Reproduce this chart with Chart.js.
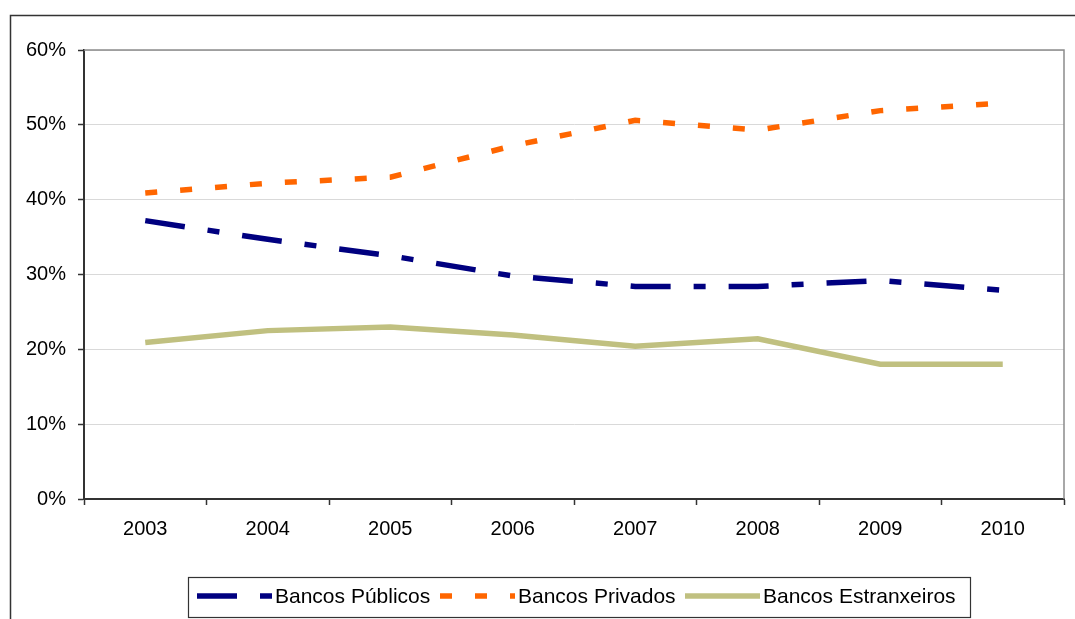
<!DOCTYPE html>
<html>
<head>
<meta charset="utf-8">
<script src="https://cdn.jsdelivr.net/npm/chart.js@4.4.1/dist/chart.umd.min.js"></script>
<style>
  html, body { margin: 0; padding: 0; background: #ffffff; }
  #wrap { width: 1075px; height: 619px; position: relative; }
</style>
</head>
<body>
<div id="wrap"><canvas id="c" width="1075" height="619"></canvas></div>
<script>
// Market share by bank type, 2003-2010 (percent)
const years = ['2003', '2004', '2005', '2006', '2007', '2008', '2009', '2010'];
const publicos = [37.2, 34.7, 32.5, 29.8, 28.4, 28.4, 29.2, 27.9];
const privados = [40.9, 42.2, 43.0, 47.2, 50.6, 49.3, 51.9, 52.9];
const estranxeiros = [20.9, 22.5, 23.0, 21.9, 20.4, 21.4, 18.0, 18.0];
const seriesNames = ['Bancos Públicos', 'Bancos Privados', 'Bancos Estranxeiros'];
const yTicks = [0, 10, 20, 30, 40, 50, 60];

const FONT = '"Liberation Sans", Arial, sans-serif';

const styles = [
  { color: '#000080', dash: [40, 23, 12, 23] },
  { color: '#FF6600', dash: [12, 23] },
  { color: '#C0C080', dash: [] }
];

// Outer frame, plot border and the legend box below the axis
const decorations = {
  id: 'decorations',
  beforeDraw(chart) {
    const ctx = chart.ctx;
    ctx.save();
    ctx.fillStyle = '#ffffff';
    ctx.fillRect(0, 0, chart.width, chart.height);
    ctx.strokeStyle = '#333333';
    ctx.lineWidth = 1.5;
    ctx.beginPath();
    ctx.moveTo(10.5, chart.height);
    ctx.lineTo(10.5, 15.5);
    ctx.lineTo(chart.width, 15.5);
    ctx.stroke();
    ctx.restore();
  },
  afterDraw(chart) {
    const ctx = chart.ctx;
    const a = chart.chartArea;
    ctx.save();
    ctx.strokeStyle = '#8c8c8c';
    ctx.lineWidth = 1.5;
    ctx.beginPath();
    ctx.moveTo(a.left, a.top);
    ctx.lineTo(a.right, a.top);
    ctx.lineTo(a.right, a.bottom);
    ctx.stroke();

    // legend
    const box = { x: 188, y: 577, w: 782, h: 40 };
    ctx.fillStyle = '#ffffff';
    ctx.fillRect(box.x, box.y, box.w, box.h);
    ctx.strokeStyle = '#333333';
    ctx.lineWidth = 1.2;
    ctx.strokeRect(box.x + 0.5, box.y + 0.5, box.w, box.h);
    const cy = box.y + 19;
    const starts = [197, 440, 685];
    ctx.font = '21px ' + FONT;
    ctx.textBaseline = 'middle';
    ctx.textAlign = 'left';
    seriesNames.forEach((name, i) => {
      const s = styles[i];
      ctx.strokeStyle = s.color;
      ctx.lineWidth = 5.5;
      ctx.lineCap = 'butt';
      ctx.setLineDash(s.dash);
      ctx.beginPath();
      ctx.moveTo(starts[i], cy);
      ctx.lineTo(starts[i] + 75, cy);
      ctx.stroke();
      ctx.setLineDash([]);
      ctx.fillStyle = '#000000';
      ctx.fillText(name, starts[i] + 78, cy + 1);
    });
    ctx.restore();
  }
};

const datasets = [publicos, privados, estranxeiros].map((d, i) => ({
  label: seriesNames[i],
  data: d,
  borderColor: styles[i].color,
  backgroundColor: styles[i].color,
  borderWidth: 5.5,
  borderDash: styles[i].dash,
  borderCapStyle: 'butt',
  borderJoinStyle: 'miter',
  pointRadius: 0,
  pointHoverRadius: 0,
  tension: 0,
  fill: false
}));

new Chart(document.getElementById('c'), {
  type: 'line',
  data: { labels: years, datasets },
  plugins: [decorations],
  options: {
    responsive: false,
    animation: false,
    events: [],
    layout: { padding: { left: 0, right: 11, top: 50, bottom: 0 } },
    plugins: { legend: { display: false }, tooltip: { enabled: false } },
    scales: {
      x: {
        type: 'category',
        offset: true,
        afterFit(scale) { scale.height = 120; },
        grid: {
          offset: true,
          drawOnChartArea: false,
          drawTicks: true,
          tickLength: 6,
          tickColor: '#333333',
          tickWidth: 1.5
        },
        border: { display: true, color: '#333333', width: 2 },
        ticks: {
          color: '#000000',
          font: { family: FONT, size: 20 },
          padding: 12,
          maxRotation: 0
        }
      },
      y: {
        min: 0,
        max: 60,
        afterFit(scale) { scale.width = 84; },
        afterBuildTicks(scale) { scale.ticks = yTicks.map(v => ({ value: v })); },
        grid: {
          color: '#d9d9d9',
          lineWidth: 1,
          drawTicks: true,
          tickLength: 6,
          tickColor: '#333333',
          tickWidth: 1.5
        },
        border: { display: true, color: '#333333', width: 2 },
        ticks: {
          color: '#000000',
          font: { family: FONT, size: 20 },
          padding: 12,
          callback: v => v + '%'
        }
      }
    }
  }
});
</script>
</body>
</html>
